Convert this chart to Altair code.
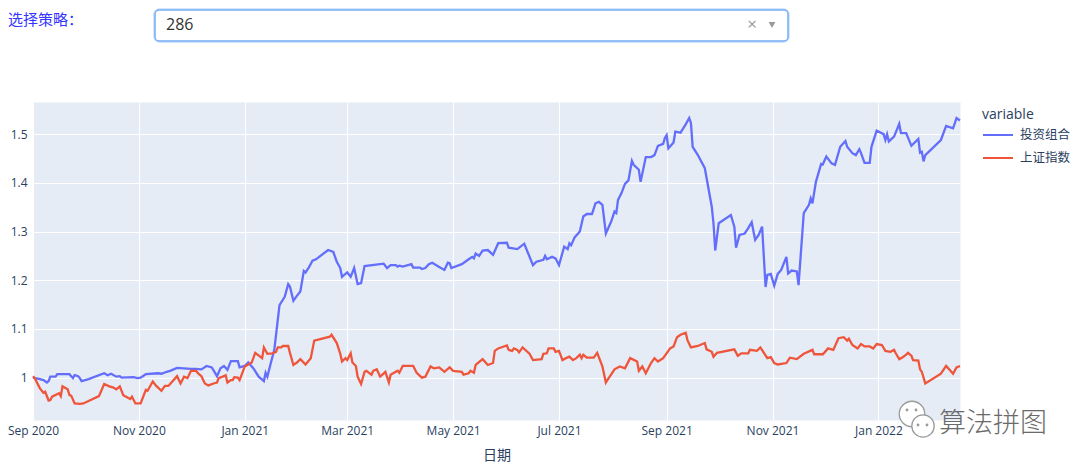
import altair as alt
import pandas as pd

# ---------------- data ----------------
START_DATE = "2020-09-01"          # day 0 of the day-offset lists below
series_names = ["投资组合", "上证指数"]
series_colors = ["#636EFA", "#EF553B"]

portfolio_day = [
    0, 4, 6, 8, 9, 10, 13, 14, 21, 22,
    23, 24, 26, 27, 28, 32, 41, 43, 45, 48,
    50, 51, 58, 60, 62, 65, 72, 74, 77, 79,
    83, 91, 94, 97, 100, 103, 106, 108, 110, 112,
    114, 118, 119, 122, 124, 127, 130, 133, 134, 135,
    137, 139, 142, 145, 147, 148, 150, 152, 154, 156,
    157, 159, 161, 163, 170, 173, 175, 177, 178, 181,
    183, 185, 187, 189, 191, 202, 204, 206, 209, 210,
    211, 213, 218, 219, 223, 224, 226, 228, 230, 234,
    237, 239, 240, 241, 247, 251, 253, 254, 255, 257,
    259, 262, 265, 268, 273, 274, 279, 283, 288, 290,
    294, 295, 296, 299, 301, 303, 306, 308, 309, 310,
    312, 315, 317, 319, 322, 324, 326, 328, 330, 333,
    335, 336, 337, 339, 341, 343, 345, 346, 349, 350,
    353, 356, 358, 360, 363, 364, 365, 366, 369, 370,
    373, 376, 378, 379, 380, 383, 387, 391, 392, 393,
    395, 402, 404, 405, 407, 410, 412, 414, 416, 418,
    420, 422, 423, 425, 427, 429, 431, 434, 435, 437,
    440, 441, 444, 447, 448, 449, 451, 454, 455, 457,
    460, 462, 465, 468, 469, 472, 474, 476, 477, 479,
    482, 483, 486, 490, 491, 492, 493, 496, 498, 499,
    500, 503, 506, 510, 511, 512, 513, 514, 523, 526,
    530, 532, 534,
]
portfolio_value = [
    1.000, 0.997, 0.995, 0.990, 0.993, 1.002, 1.002, 1.007, 1.007, 1.003,
    0.999, 1.005, 1.003, 0.999, 0.993, 0.997, 1.009, 1.005, 1.008, 1.002,
    1.003, 1.000, 1.001, 0.999, 1.000, 1.007, 1.009, 1.008, 1.012, 1.014,
    1.020, 1.018, 1.018, 1.017, 1.024, 1.021, 1.003, 1.019, 1.024, 1.016,
    1.034, 1.034, 1.021, 1.024, 1.031, 1.019, 1.002, 0.993, 1.010, 1.002,
    1.030, 1.057, 1.149, 1.166, 1.192, 1.187, 1.158, 1.168, 1.177, 1.219,
    1.216, 1.227, 1.240, 1.243, 1.262, 1.258, 1.238, 1.225, 1.207, 1.216,
    1.207, 1.225, 1.192, 1.194, 1.229, 1.234, 1.225, 1.231, 1.231, 1.228,
    1.230, 1.228, 1.233, 1.226, 1.226, 1.223, 1.225, 1.233, 1.236, 1.227,
    1.221, 1.236, 1.235, 1.225, 1.233, 1.243, 1.248, 1.245, 1.255, 1.250,
    1.261, 1.262, 1.252, 1.276, 1.277, 1.267, 1.264, 1.275, 1.231, 1.238,
    1.242, 1.250, 1.243, 1.248, 1.245, 1.231, 1.269, 1.264, 1.276, 1.272,
    1.288, 1.300, 1.331, 1.336, 1.336, 1.358, 1.361, 1.355, 1.296, 1.320,
    1.341, 1.338, 1.365, 1.379, 1.398, 1.405, 1.445, 1.437, 1.427, 1.402,
    1.453, 1.453, 1.457, 1.476, 1.480, 1.492, 1.498, 1.471, 1.483, 1.505,
    1.503, 1.520, 1.533, 1.523, 1.474, 1.457, 1.430, 1.351, 1.317, 1.261,
    1.317, 1.334, 1.310, 1.267, 1.293, 1.296, 1.307, 1.319, 1.283, 1.293,
    1.310, 1.186, 1.211, 1.213, 1.189, 1.213, 1.221, 1.248, 1.214, 1.220,
    1.218, 1.190, 1.338, 1.355, 1.368, 1.358, 1.402, 1.439, 1.438, 1.454,
    1.440, 1.437, 1.474, 1.486, 1.474, 1.461, 1.457, 1.469, 1.461, 1.441,
    1.441, 1.474, 1.507, 1.500, 1.488, 1.500, 1.485, 1.495, 1.512, 1.521,
    1.502, 1.502, 1.476, 1.490, 1.462, 1.464, 1.444, 1.457, 1.488, 1.517,
    1.512, 1.533, 1.528,
]

index_day = [
    0, 1, 4, 6, 7, 9, 10, 11, 15, 16,
    17, 20, 21, 22, 24, 27, 29, 38, 41, 44,
    46, 48, 50, 52, 56, 57, 59, 62, 65, 66,
    69, 71, 74, 76, 78, 83, 85, 87, 89, 91,
    94, 95, 97, 99, 101, 104, 106, 107, 110, 111,
    112, 114, 115, 116, 118, 119, 122, 126, 128, 132,
    133, 135, 138, 140, 141, 143, 144, 147, 148, 150,
    152, 154, 157, 160, 162, 171, 172, 175, 177, 178,
    180, 181, 183, 184, 186, 187, 189, 191, 192, 195,
    196, 198, 200, 203, 205, 206, 210, 211, 213, 219,
    221, 224, 226, 229, 231, 234, 237, 240, 242, 247,
    248, 251, 252, 254, 255, 259, 262, 265, 266, 268,
    273, 274, 276, 277, 279, 280, 282, 286, 288, 293,
    294, 296, 297, 300, 301, 303, 305, 307, 309, 311,
    313, 315, 316, 317, 319, 323, 325, 328, 330, 332,
    335, 338, 341, 344, 348, 349, 351, 353, 356, 358,
    360, 363, 366, 367, 369, 371, 373, 376, 377, 379,
    383, 387, 388, 391, 392, 394, 404, 406, 408, 412,
    413, 417, 419, 423, 425, 427, 429, 434, 436, 440,
    444, 449, 450, 455, 458, 461, 464, 467, 469, 470,
    472, 475, 477, 479, 482, 484, 486, 489, 491, 494,
    496, 497, 499, 501, 503, 504, 506, 507, 510, 511,
    512, 514, 523, 526, 528, 530, 532, 534,
]
index_value = [
    1.003, 0.999, 0.978, 0.969, 0.971, 0.953, 0.954, 0.961, 0.968, 0.962,
    0.982, 0.976, 0.964, 0.963, 0.947, 0.946, 0.947, 0.962, 0.987, 0.982,
    0.980, 0.976, 0.982, 0.964, 0.956, 0.961, 0.947, 0.947, 0.975, 0.973,
    0.992, 0.983, 0.973, 0.983, 0.983, 1.003, 0.988, 1.002, 0.999, 1.014,
    1.014, 1.009, 1.003, 0.988, 0.984, 0.988, 0.990, 0.999, 1.003, 1.005,
    0.990, 0.995, 0.995, 1.001, 1.000, 0.995, 1.023, 1.031, 1.051, 1.040,
    1.062, 1.049, 1.050, 1.053, 1.062, 1.062, 1.065, 1.065, 1.051, 1.026,
    1.031, 1.038, 1.027, 1.040, 1.076, 1.084, 1.088, 1.071, 1.049, 1.033,
    1.040, 1.036, 1.050, 1.031, 1.024, 1.002, 0.987, 1.012, 1.014, 1.006,
    1.014, 1.017, 1.002, 1.012, 0.990, 1.006, 1.014, 1.010, 1.024, 1.024,
    1.010, 1.000, 1.002, 1.023, 1.019, 1.021, 1.012, 1.021, 1.014, 1.012,
    1.006, 1.009, 1.014, 1.010, 1.026, 1.038, 1.026, 1.030, 1.055, 1.060,
    1.066, 1.057, 1.055, 1.060, 1.057, 1.052, 1.062, 1.049, 1.036, 1.038,
    1.049, 1.050, 1.060, 1.060, 1.053, 1.055, 1.036, 1.040, 1.043, 1.036,
    1.040, 1.047, 1.040, 1.047, 1.041, 1.041, 1.051, 1.023, 0.990, 1.001,
    1.017, 1.023, 1.019, 1.040, 1.033, 1.014, 1.023, 1.009, 1.030, 1.040,
    1.033, 1.040, 1.055, 1.060, 1.064, 1.083, 1.088, 1.092, 1.077, 1.062,
    1.065, 1.071, 1.058, 1.053, 1.043, 1.051, 1.058, 1.045, 1.050, 1.050,
    1.057, 1.055, 1.062, 1.040, 1.042, 1.030, 1.027, 1.030, 1.041, 1.038,
    1.049, 1.057, 1.048, 1.048, 1.060, 1.057, 1.081, 1.083, 1.076, 1.080,
    1.067, 1.060, 1.069, 1.064, 1.064, 1.060, 1.069, 1.067, 1.055, 1.053,
    1.057, 1.050, 1.038, 1.042, 1.047, 1.051, 1.045, 1.036, 1.035, 1.017,
    1.012, 0.988, 1.008, 1.024, 1.016, 1.008, 1.021, 1.024,
]

y_tick_values = [1.0, 1.1, 1.2, 1.3, 1.4, 1.5]
y_domain = [0.913, 1.566]
x_tick_months = [(2020, 9), (2020, 11), (2021, 1), (2021, 3), (2021, 5),
                 (2021, 7), (2021, 9), (2021, 11), (2022, 1)]
x_domain_end = (2022, 2, 17)
selector_label = "选择策略："
selector_value = "286"
watermark_text = "算法拼图"

# ---------------- build table ----------------
start = pd.Timestamp(START_DATE)
frames = []
for name, days, vals in [(series_names[0], portfolio_day, portfolio_value),
                         (series_names[1], index_day, index_value)]:
    assert len(days) == len(vals)
    frames.append(pd.DataFrame({
        "date": (start + pd.to_timedelta(days, unit="D")).strftime("%Y-%m-%dT%H:%M:%S"),
        "value": vals,
        "variable": name,
    }))
df = pd.concat(frames, ignore_index=True)

W, H = 927, 318
PAD = {"left": 25, "top": 94, "right": 112, "bottom": 44}
FONT = "Open Sans"
CJK = "Noto Sans CJK SC"
TXT = "#2a3f5f"

lines = alt.Chart(df).mark_line(strokeWidth=2.3).encode(
    x=alt.X(
        "date:T",
        scale=alt.Scale(domain=[alt.DateTime(year=2020, month=9, date=1),
                                alt.DateTime(year=x_domain_end[0], month=x_domain_end[1], date=x_domain_end[2])]),
        axis=alt.Axis(values=[alt.DateTime(year=y, month=m, date=1) for y, m in x_tick_months],
                      format="%b %Y", title="日期", labelFlush=False, labelPadding=5,
                      titleFont=CJK, titleFontSize=14, titlePadding=12),
    ),
    y=alt.Y(
        "value:Q",
        scale=alt.Scale(domain=y_domain, nice=False, zero=False),
        axis=alt.Axis(values=y_tick_values, format="~g", title=None, labelPadding=6),
    ),
    color=alt.Color(
        "variable:N",
        scale=alt.Scale(domain=series_names, range=series_colors),
        legend=alt.Legend(title="variable", orient="none", legendX=949, legendY=6,
                          symbolType="stroke", symbolSize=900, symbolStrokeWidth=2,
                          labelFont=CJK, labelFontSize=12.5, labelColor=TXT,
                          titleFont=FONT, titleFontSize=14, titleFontWeight="normal",
                          titleColor=TXT, titlePadding=-3, rowPadding=-8, labelOffset=6),
    ),
)


def one(v="x"):
    return pd.DataFrame({"t": [v]})


label = alt.Chart(one(selector_label)).mark_text(
    align="left", baseline="middle", fontSize=15, font=CJK, color="#3434ff"
).encode(text="t:N", x=alt.value(-25), y=alt.value(-82))

glow = alt.Chart(one()).mark_rect(
    fill="white", stroke="#d3e6fc", strokeWidth=4, cornerRadius=5
).encode(x=alt.value(122), x2=alt.value(755), y=alt.value(-92), y2=alt.value(-61))

box = alt.Chart(one()).mark_rect(
    fill="white", stroke="#74aef3", strokeWidth=1.5, cornerRadius=4
).encode(x=alt.value(122), x2=alt.value(755), y=alt.value(-92), y2=alt.value(-61))

value_txt = alt.Chart(one(selector_value)).mark_text(
    align="left", baseline="middle", fontSize=16, font=FONT, color="#333333"
).encode(text="t:N", x=alt.value(133), y=alt.value(-77))

clear_txt = alt.Chart(one("×")).mark_text(
    align="center", baseline="middle", fontSize=17, font=FONT, color="#999999"
).encode(text="t:N", x=alt.value(719), y=alt.value(-77))

arrow = alt.Chart(one()).mark_point(
    shape="triangle-down", filled=True, color="#999999", size=45, opacity=1
).encode(x=alt.value(739), y=alt.value(-77))

bubble1 = alt.Chart(one()).mark_point(
    shape="circle", filled=True, fill="white", stroke="#9a9a9a", strokeWidth=1.3, size=650, opacity=1
).encode(x=alt.value(879), y=alt.value(312))
bubble2 = alt.Chart(one()).mark_point(
    shape="circle", filled=True, fill="white", stroke="#9a9a9a", strokeWidth=1.3, size=500, opacity=1
).encode(x=alt.value(890), y=alt.value(324))
eyes = alt.Chart(pd.DataFrame({"ex": [874, 883, 885, 894], "ey": [308, 308, 323, 323]})).mark_point(
    shape="circle", filled=True, color="#9a9a9a", size=8, opacity=1
).encode(x=alt.X("ex:Q", scale=None), y=alt.Y("ey:Q", scale=None))

wm = alt.Chart(one(watermark_text)).mark_text(
    align="left", baseline="middle", fontSize=27, font=CJK, color="#6a6a6a", fontWeight=300
).encode(text="t:N", x=alt.value(906), y=alt.value(322))

chart = alt.layer(
    lines, label, glow, box, value_txt, clear_txt, arrow, bubble1, bubble2, eyes, wm
).properties(
    width=W, height=H, padding=PAD,
    autosize=alt.AutoSizeParams(type="none"),
    background="white",
).configure_view(
    fill="#E5ECF6", stroke="transparent"
).configure_axis(
    domain=False, ticks=False, grid=True, gridColor="white", gridWidth=1,
    labelFont=FONT, labelFontSize=12, labelColor=TXT,
    titleColor=TXT, titleFontWeight="normal",
)

chart.save("out.html", embed_options={"renderer": "svg", "actions": False})
